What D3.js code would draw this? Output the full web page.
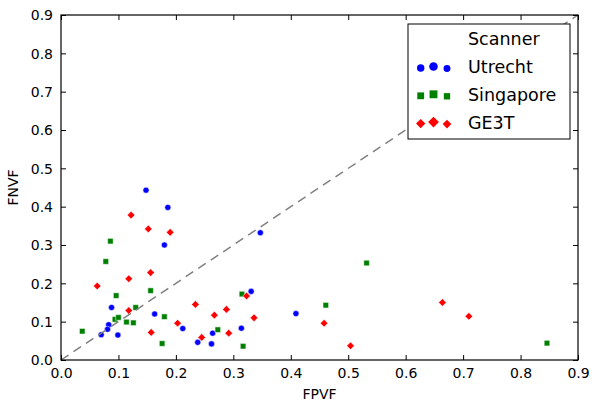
<!DOCTYPE html>
<html>
<head>
<meta charset="utf-8">
<script src="https://cdn.jsdelivr.net/npm/d3@7"></script>
<style>
  body { margin: 0; background: #fff; }
  svg { display: block; font-family: "DejaVu Sans", sans-serif; }
</style>
</head>
<body>
<div id="chart"></div>
<script>
// values, [FPVF, FNVF]
const utrecht = [
  [0.148, 0.443], [0.186, 0.398], [0.180, 0.300], [0.347, 0.332],
  [0.088, 0.137], [0.163, 0.120], [0.083, 0.092], [0.081, 0.080],
  [0.070, 0.066], [0.099, 0.065], [0.212, 0.082], [0.238, 0.046],
  [0.262, 0.042], [0.264, 0.070], [0.314, 0.083], [0.331, 0.179],
  [0.409, 0.121]
];
const singapore = [
  [0.086, 0.310], [0.078, 0.257], [0.096, 0.168], [0.156, 0.181],
  [0.130, 0.137], [0.037, 0.075], [0.094, 0.106], [0.100, 0.111],
  [0.114, 0.099], [0.126, 0.097], [0.180, 0.113], [0.176, 0.043],
  [0.273, 0.079], [0.315, 0.172], [0.317, 0.036], [0.461, 0.143],
  [0.532, 0.253], [0.846, 0.044]
];
const ge3t = [
  [0.122, 0.378], [0.152, 0.342], [0.190, 0.333], [0.118, 0.212],
  [0.156, 0.228], [0.063, 0.193], [0.118, 0.129], [0.157, 0.072],
  [0.203, 0.096], [0.234, 0.145], [0.245, 0.059], [0.267, 0.117],
  [0.288, 0.132], [0.292, 0.070], [0.323, 0.167], [0.336, 0.110],
  [0.458, 0.096], [0.504, 0.037], [0.664, 0.150], [0.710, 0.114]
];
const tickValues = [0, 0.1, 0.2, 0.3, 0.4, 0.5, 0.6, 0.7, 0.8, 0.9];
const seriesNames = ["Utrecht", "Singapore", "GE3T"];

const width = 592, height = 402;
const margin = { left: 61, right: 14, top: 15, bottom: 42 };

const svg = d3.select("#chart").append("svg")
  .attr("width", width)
  .attr("height", height);

const x = d3.scaleLinear().domain([0, 0.9]).range([margin.left, width - margin.right]);
const y = d3.scaleLinear().domain([0, 0.9]).range([height - margin.bottom, margin.top]);

const series = [
  { name: seriesNames[0], data: utrecht, color: "#0000ff", type: d3.symbolCircle, size: 29, rot: 0 },
  { name: seriesNames[1], data: singapore, color: "#008000", type: d3.symbolSquare, size: 31, rot: 0 },
  { name: seriesNames[2], data: ge3t, color: "#ff0000", type: d3.symbolSquare, size: 29, rot: 45 }
];

// scatter points
series.forEach(s => {
  svg.append("g")
    .selectAll("path")
    .data(s.data)
    .enter()
    .append("path")
    .attr("d", d3.symbol().type(s.type).size(s.size))
    .attr("transform", d => `translate(${x(d[0])},${y(d[1])}) rotate(${s.rot})`)
    .attr("fill", s.color)
    .attr("stroke", "#fff")
    .attr("stroke-width", 0.5);
});

// diagonal y = x
svg.append("line")
  .attr("x1", x(0)).attr("y1", y(0))
  .attr("x2", x(0.9)).attr("y2", y(0.9))
  .attr("stroke", "#808080")
  .attr("stroke-width", 1.5)
  .attr("stroke-dasharray", "9,6");

// axes with inward ticks on all four sides
const fmt = d3.format(".1f");
const tickLen = 5;

const axisB = svg.append("g")
  .attr("transform", `translate(0,${y(0)})`)
  .call(d3.axisBottom(x).tickValues(tickValues).tickFormat(fmt).tickSizeInner(-tickLen).tickSizeOuter(0).tickPadding(8));
const axisL = svg.append("g")
  .attr("transform", `translate(${x(0)},0)`)
  .call(d3.axisLeft(y).tickValues(tickValues).tickFormat(fmt).tickSizeInner(-tickLen).tickSizeOuter(0).tickPadding(8));
const axisT = svg.append("g")
  .attr("transform", `translate(0,${y(0.9)})`)
  .call(d3.axisTop(x).tickValues(tickValues).tickFormat("").tickSizeInner(-tickLen).tickSizeOuter(0));
const axisR = svg.append("g")
  .attr("transform", `translate(${x(0.9)},0)`)
  .call(d3.axisRight(y).tickValues(tickValues).tickFormat("").tickSizeInner(-tickLen).tickSizeOuter(0));

[axisB, axisL, axisT, axisR].forEach(g => {
  g.select(".domain").remove();
  g.selectAll(".tick line").attr("stroke", "#000").attr("stroke-width", 1);
  g.selectAll("text")
    .attr("font-family", "DejaVu Sans, sans-serif")
    .attr("font-size", "14px")
    .attr("fill", "#000");
});
axisL.selectAll("text").attr("dy", "0.35em");

// frame
svg.append("rect")
  .attr("x", x(0)).attr("y", y(0.9))
  .attr("width", x(0.9) - x(0))
  .attr("height", y(0) - y(0.9))
  .attr("fill", "none")
  .attr("stroke", "#000")
  .attr("stroke-width", 1.2);

// axis labels
svg.append("text")
  .attr("x", (x(0) + x(0.9)) / 2)
  .attr("y", 399)
  .attr("text-anchor", "middle")
  .attr("font-size", "14px")
  .text("FPVF");

svg.append("text")
  .attr("transform", `translate(18,${(y(0) + y(0.9)) / 2}) rotate(-90)`)
  .attr("text-anchor", "middle")
  .attr("font-size", "14px")
  .text("FNVF");

// legend
const legend = svg.append("g");
legend.append("rect")
  .attr("x", 408).attr("y", 24)
  .attr("width", 162).attr("height", 115)
  .attr("fill", "#fff")
  .attr("stroke", "#000")
  .attr("stroke-width", 1);

legend.append("text")
  .attr("x", 468).attr("y", 39)
  .attr("dy", "0.35em")
  .attr("font-size", "17.5px")
  .text("Scanner");

const legendScale = [1.5, 2.0, 1.3];
const legendOffX = [420.7, 433.5, 447];
const legendOffY = [1, -0.5, 1.5];
series.forEach((s, i) => {
  const cy = 67 + i * 27.8;
  legendOffX.forEach((lx, j) => {
    legend.append("path")
      .attr("d", d3.symbol().type(s.type).size(s.size * legendScale[j]))
      .attr("transform", `translate(${lx},${cy + legendOffY[j]}) rotate(${s.rot})`)
      .attr("fill", s.color);
  });
  legend.append("text")
    .attr("x", 468).attr("y", cy)
    .attr("dy", "0.35em")
    .attr("font-size", "17.5px")
    .text(s.name);
});
</script>
</body>
</html>
